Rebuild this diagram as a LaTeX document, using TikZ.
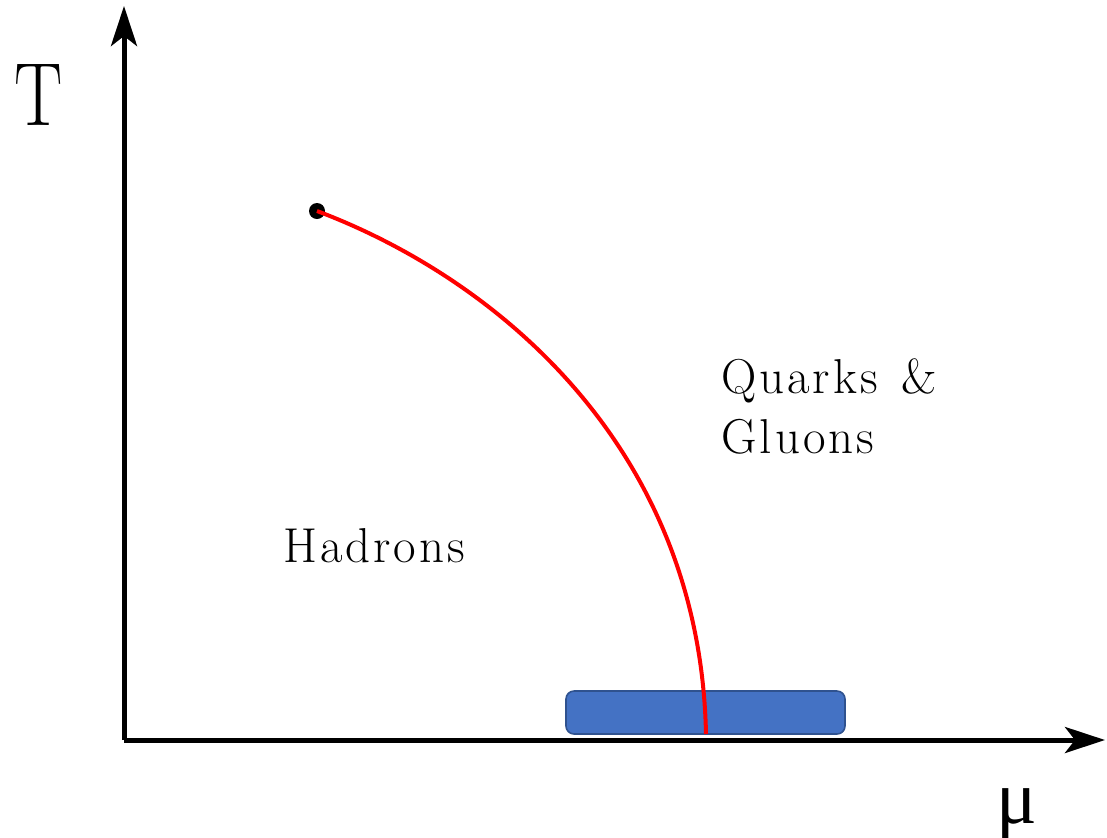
\documentclass[tikz,border=0pt]{standalone}
\usepackage{fontspec}
\newfontfamily\greekfont{Liberation Serif}
\newfontfamily\regionfont{Latin Modern Roman}[LetterSpace=6]
\usetikzlibrary{arrows.meta, positioning}
\definecolor{bandblue}{HTML}{4472C4}
\definecolor{bandedge}{HTML}{2F528F}
\tikzset{
    axis/.style={line width=2.5pt, -{Stealth[length=20pt, width=13pt, inset=5pt]}},
    phaseline/.style={line width=2pt, red},
    region/.style={inner sep=0pt, font=\regionfont\fontsize{24.5}{30}\selectfont, align=left},
    axislabel/.style={inner sep=0pt, font=\fontsize{38}{40}\selectfont},
    band/.style={
        rectangle, rounded corners=4pt, minimum width=139.5pt, minimum height=21.5pt,
        draw=bandedge, line width=0.8pt, fill=bandblue
    },
    critical/.style={circle, fill=black, inner sep=0pt, minimum size=8pt}
}
\begin{document}
\begin{tikzpicture}[x=0.5pt, y=-0.5pt]
    \useasboundingbox (0,0) rectangle (1107,837);
    % axes
    \coordinate (origin) at (124,740);
    \coordinate (ytip) at (124,6);
    \coordinate (xtip) at (1105,740);
    \node (lowband) [band] at (705.5,712.5) {};
    \node (critpt) [critical] at (317,211) {};
    \coordinate (crossing) at (706,734);
    \draw [phaseline] (critpt.center) .. controls (500,280) and (700,450) .. (crossing);
    \draw [axis] (origin) -- (ytip);
    \draw [axis] (origin) -- (xtip);
    % labels
    \node (tlabel) [axislabel, anchor=base west] at (14,125) {\scalebox{0.95}[1.18]{T}};
    \node (mulabel) [axislabel, anchor=base west] at (996,823) {\greekfont μ};
    \node (hadrons) [region, anchor=base west] at (283,562) {Hadrons};
    \node (qgp) [region, anchor=north west] at (721,358) {Quarks\hspace{3pt} \&\\Gluons};
\end{tikzpicture}
\end{document}
